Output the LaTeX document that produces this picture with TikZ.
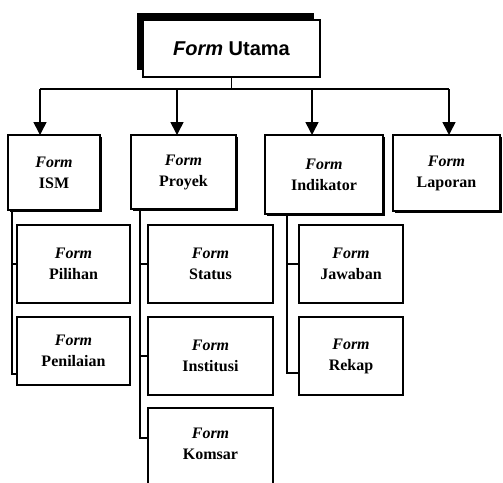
\documentclass[tikz,border=0pt]{standalone}
\usepackage{fontspec}
\setmainfont{Liberation Serif}
\newfontfamily\utamafont{Liberation Sans}
\usetikzlibrary{arrows.meta,shadows}
\begin{document}
\begin{tikzpicture}[x=1pt,y=-1pt,
  basebox/.style={draw,line width=1.5pt,fill=white,align=center,inner sep=0pt,outer sep=0pt,
    font=\bfseries\fontsize{16}{21}\selectfont},
  lvlone/.style={basebox,drop shadow={shadow xshift=2pt,shadow yshift=-2pt,opacity=1,fill=black}},
  lvltwo/.style={basebox,drop shadow={shadow xshift=1pt,shadow yshift=-1pt,opacity=1,fill=black}},
  conn/.style={line width=1.6pt},
  arr/.style={conn,-{Triangle[width=13pt,length=13pt]}}]
\useasboundingbox (0,0) rectangle (503,482);
\clip (0,0) rectangle (503,482);

% top
\node[basebox,font=\utamafont\bfseries\fontsize{20}{24}\selectfont,
  minimum width=177pt,minimum height=57pt,
  drop shadow={shadow xshift=-6.5pt,shadow yshift=7pt,opacity=1,fill=black}]
  (Utama) at (231.5,48.5) {\textit{Form} Utama};

% level one
\node[lvlone,minimum width=92pt,minimum height=75pt] (ISM) at (54,172.5) {\textit{Form}\\ISM};
\node[lvlone,minimum width=105pt,minimum height=74pt] (Proyek) at (183.5,172) {\textit{Form}\\Proyek};
\node[lvlone,minimum width=118pt,minimum height=79pt] (Indikator) at (324,174.5) {\textit{Form}\\Indikator};
\node[lvlone,minimum width=107pt,minimum height=76pt] (Laporan) at (446.5,173) {\textit{Form}\\Laporan};

% level two
\node[lvltwo,minimum width=113pt,minimum height=78pt] (Pilihan) at (73.5,264) {\textit{Form}\\Pilihan};
\node[lvltwo,minimum width=113pt,minimum height=68pt] (Penilaian) at (73.5,351) {\textit{Form}\\Penilaian};
\node[lvltwo,minimum width=125pt,minimum height=78pt] (Status) at (210.5,264) {\textit{Form}\\Status};
\node[lvltwo,minimum width=125pt,minimum height=78pt] (Institusi) at (210.5,356) {\textit{Form}\\Institusi};
\node[lvltwo,minimum width=125pt,inner ysep=20pt,anchor=north] (Komsar) at (210.5,408)
  {\textit{Form}\\Komsar\rule[-50pt]{0pt}{0pt}};
\node[lvltwo,minimum width=104pt,minimum height=78pt] (Jawaban) at (351,264) {\textit{Form}\\Jawaban};
\node[lvltwo,minimum width=104pt,minimum height=78pt] (Rekap) at (351,356) {\textit{Form}\\Rekap};

% bus
\coordinate (busL) at (40,89);
\coordinate (busR) at (449,89);
\coordinate (b2) at (177,89);
\coordinate (b3) at (312,89);
\draw[conn] (Utama.south) -- (Utama.south |- busL);
\draw[conn] (busL) -- (busR);
\draw[arr] (busL) -- (ISM.north -| busL);
\draw[arr] (b2) -- (Proyek.north -| b2);
\draw[arr] (b3) -- (Indikator.north -| b3);
\draw[arr] (busR) -- (Laporan.north -| busR);

% spines
\coordinate (s1) at (12,374);
\coordinate (s2) at (140,438);
\coordinate (s3) at (287,373);
\draw[conn] (ISM.south -| s1) |- (Penilaian.west |- s1);
\draw[conn] (Pilihan.west -| s1) -- (Pilihan.west);
\draw[conn] (Proyek.south -| s2) |- (Komsar.north west |- s2);
\draw[conn] (Status.west -| s2) -- (Status.west);
\draw[conn] (Institusi.west -| s2) -- (Institusi.west);
\draw[conn] (Indikator.south -| s3) |- (Rekap.west |- s3);
\draw[conn] (Jawaban.west -| s3) -- (Jawaban.west);
\end{tikzpicture}
\end{document}
